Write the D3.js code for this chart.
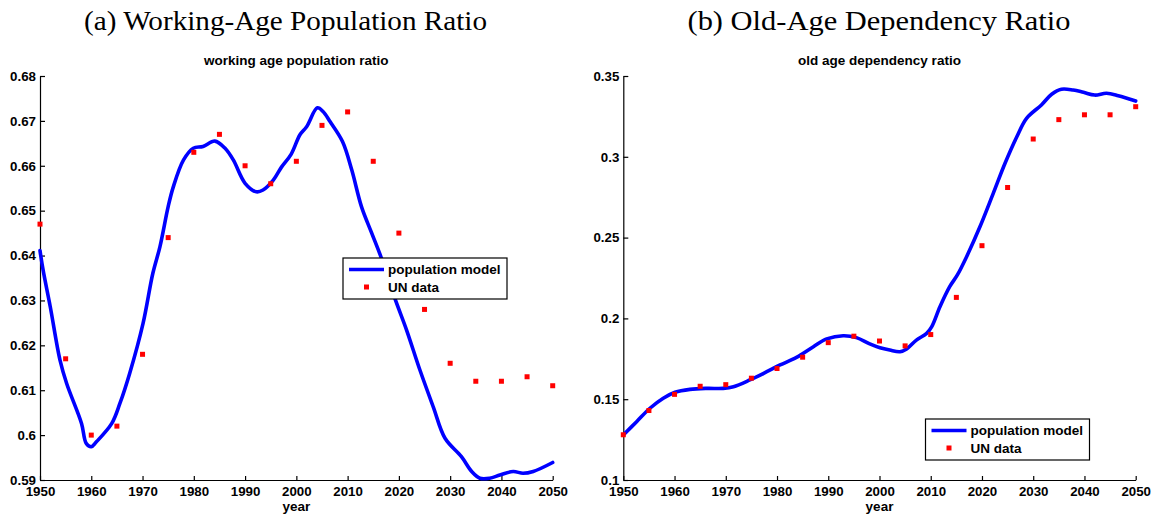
<!DOCTYPE html>
<html>
<head>
<meta charset="utf-8">
<script src="https://cdn.jsdelivr.net/npm/d3@7"></script>
<style>
  html, body { margin: 0; padding: 0; background: #fff; }
  svg { display: block; }
  .tick text { font-family: "Liberation Sans", Arial, sans-serif; font-weight: bold; font-size: 13.3px; fill: #000; }
</style>
</head>
<body>
<svg id="chart" width="1161" height="516"></svg>
<script>
// Five-year observation years for the UN series
const unYears = [1950, 1955, 1960, 1965, 1970, 1975, 1980, 1985, 1990, 1995, 2000,
                 2005, 2010, 2015, 2020, 2025, 2030, 2035, 2040, 2045, 2050];

// (a) working-age population ratio
const workingUN = [0.647, 0.617, 0.600, 0.602, 0.618, 0.644, 0.663, 0.667, 0.660, 0.656, 0.661,
                   0.669, 0.672, 0.661, 0.645, 0.628, 0.616, 0.612, 0.612, 0.613, 0.611];
const workingModelYears = [1950, 1950.6, 1952, 1953.9, 1955.2, 1958.1, 1959, 1960, 1961, 1964,
                           1965.6, 1967.5, 1970.1, 1972, 1973.4, 1975, 1976, 1978, 1979.9, 1981.8,
                           1984.1, 1986.1, 1987.7, 1990, 1992.2, 1993.5, 1995.5, 1997.1, 1999,
                           2000.7, 2002, 2004.1, 2005.2, 2006.6, 2009, 2010.8, 2012.7, 2014.7,
                           2016.6, 2019.2, 2021.5, 2024.1, 2026.7, 2029, 2032.2, 2034.2, 2035.8,
                           2037.7, 2039.7, 2042.3, 2044.2, 2046.2, 2050];
const workingModel = [0.6411, 0.6368, 0.6286, 0.6167, 0.6115, 0.6026, 0.5982, 0.5974, 0.5985, 0.6026,
                      0.6071, 0.6138, 0.6249, 0.6360, 0.6420, 0.6509, 0.6553, 0.6613, 0.6639, 0.6643,
                      0.6655, 0.6639, 0.6613, 0.6561, 0.6542, 0.6546, 0.6568, 0.6597, 0.6626,
                      0.6669, 0.6687, 0.6729, 0.6721, 0.6698, 0.6654, 0.6591, 0.6509, 0.6450,
                      0.6394, 0.6305, 0.6234, 0.6145, 0.6063, 0.5993, 0.5952, 0.5919, 0.5904,
                      0.5904, 0.5911, 0.5919, 0.5915, 0.5919, 0.5939];
const workingTicks = [0.59, 0.60, 0.61, 0.62, 0.63, 0.64, 0.65, 0.66, 0.67, 0.68];
const workingTickLabels = ["0.59", "0.6", "0.61", "0.62", "0.63", "0.64", "0.65", "0.66", "0.67", "0.68"];

// (b) old-age dependency ratio
const oldAgeUN = [0.128, 0.143, 0.153, 0.158, 0.159, 0.163, 0.169, 0.176, 0.185, 0.189, 0.186,
                  0.183, 0.190, 0.213, 0.245, 0.281, 0.311, 0.323, 0.326, 0.326, 0.331];
const oldAgeModelYears = [1950, 1952.6, 1955.2, 1957.8, 1960.1, 1963, 1966.3, 1969.5, 1971.5, 1974.7,
                          1978, 1980.6, 1983.8, 1987.1, 1989.7, 1992.9, 1995.5, 1998.1, 2000.1,
                          2002, 2004, 2005.3, 2007.2, 2009.2, 2010.2, 2011.8, 2013.7, 2015.2,
                          2017, 2019.6, 2022.2, 2024.5, 2026.8, 2028.7, 2031.6, 2033.6, 2035.5,
                          2037.8, 2039.8, 2042, 2044.3, 2046.6, 2050];
const oldAgeModel = [0.1278, 0.1361, 0.1444, 0.1506, 0.1543, 0.1561, 0.1567, 0.1567, 0.1577, 0.1619,
                     0.1670, 0.1712, 0.1759, 0.1825, 0.1873, 0.1893, 0.1881, 0.1842, 0.1818,
                     0.1804, 0.1794, 0.1811, 0.1866, 0.1907, 0.1949, 0.2072, 0.2196, 0.2269,
                     0.2382, 0.2567, 0.2774, 0.2960, 0.3124, 0.3238, 0.3321, 0.3387, 0.3418,
                     0.3413, 0.3399, 0.3382, 0.3393, 0.3378, 0.3345];
const oldAgeTicks = [0.10, 0.15, 0.20, 0.25, 0.30, 0.35];
const oldAgeTickLabels = ["0.1", "0.15", "0.2", "0.25", "0.3", "0.35"];

const yearTicks = [1950, 1960, 1970, 1980, 1990, 2000, 2010, 2020, 2030, 2040, 2050];
const legendLabels = ["population model", "UN data"];

const svg = d3.select("#chart");
const sans = "'Liberation Sans', Arial, sans-serif";

function drawPanel(cfg) {
  const g = svg.append("g");
  const x = d3.scaleLinear().domain([1950, 2050]).range([cfg.left, cfg.right]);
  const y = d3.scaleLinear().domain(cfg.domain).range([480, 76]);

  // Figure caption (serif) and axes title (bold sans)
  g.append("text")
    .attr("x", cfg.captionX).attr("y", 30)
    .attr("text-anchor", "middle")
    .attr("textLength", cfg.captionWidth)
    .attr("lengthAdjust", "spacingAndGlyphs")
    .style("font-family", "'Liberation Serif', 'Times New Roman', serif")
    .style("font-size", "26.5px")
    .text(cfg.caption);
  g.append("text")
    .attr("x", (cfg.left + cfg.right) / 2).attr("y", 65)
    .attr("text-anchor", "middle")
    .style("font-family", sans)
    .style("font-weight", "bold")
    .style("font-size", "13.5px")
    .text(cfg.title);

  // Axes: ticks point inward
  const xAxis = d3.axisBottom(x).tickValues(yearTicks).tickFormat(d3.format("d"))
    .tickSizeInner(-4).tickSizeOuter(0).tickPadding(7);
  const gx = g.append("g").attr("transform", "translate(0,480)").call(xAxis);
  const yAxis = d3.axisLeft(y).tickValues(cfg.ticks)
    .tickFormat((d, i) => cfg.tickLabels[i])
    .tickSizeInner(-5).tickSizeOuter(0).tickPadding(4);
  const gy = g.append("g").attr("transform", `translate(${cfg.left},0)`).call(yAxis);
  [gx, gy].forEach(a => {
    a.select(".domain").attr("stroke", "#000").attr("stroke-width", 1.2);
    a.selectAll(".tick line").attr("stroke", "#000").attr("stroke-width", 1.2);
  });

  g.append("text")
    .attr("x", (cfg.left + cfg.right) / 2).attr("y", 511)
    .attr("text-anchor", "middle")
    .style("font-family", sans)
    .style("font-weight", "bold")
    .style("font-size", "13.5px")
    .text("year");

  // Model curve
  const pts = cfg.modelYears.map((yr, i) => [yr, cfg.model[i]]);
  const line = d3.line().x(d => x(d[0])).y(d => y(d[1])).curve(d3.curveCatmullRom.alpha(0.5));
  g.append("path").datum(pts)
    .attr("d", line)
    .attr("fill", "none")
    .attr("stroke", "#0000ff")
    .attr("stroke-width", 3.6)
    .attr("stroke-linejoin", "round")
    .attr("stroke-linecap", "round");

  // UN data points
  g.append("g").selectAll("rect").data(unYears.map((yr, i) => [yr, cfg.un[i]]))
    .join("rect")
    .attr("x", d => x(d[0]) - 2.5).attr("y", d => y(d[1]) - 2.5)
    .attr("width", 5).attr("height", 5)
    .attr("fill", "#ff0000");

  // Legend
  const lg = g.append("g").attr("transform", `translate(${cfg.legend[0]},${cfg.legend[1]})`);
  lg.append("rect").attr("x", 0).attr("y", 0).attr("width", 164).attr("height", 41)
    .attr("fill", "#fff").attr("stroke", "#000").attr("stroke-width", 1.2);
  lg.append("line").attr("x1", 6).attr("x2", 41).attr("y1", 11.5).attr("y2", 11.5)
    .attr("stroke", "#0000ff").attr("stroke-width", 3.6);
  lg.append("rect").attr("x", 21).attr("y", 26.5).attr("width", 5).attr("height", 5).attr("fill", "#ff0000");
  lg.selectAll("text.lbl").data(legendLabels).join("text")
    .attr("class", "lbl")
    .attr("x", 45).attr("y", (d, i) => 16 + i * 18)
    .style("font-family", sans)
    .style("font-weight", "bold")
    .style("font-size", "13.5px")
    .text(d => d);
}

drawPanel({
  left: 40, right: 552.7, domain: [0.59, 0.68],
  ticks: workingTicks, tickLabels: workingTickLabels,
  caption: "(a) Working-Age Population Ratio", captionX: 285.5, captionWidth: 403,
  title: "working age population ratio",
  modelYears: workingModelYears, model: workingModel, un: workingUN,
  legend: [343, 258]
});
drawPanel({
  left: 623.3, right: 1135.7, domain: [0.10, 0.35],
  ticks: oldAgeTicks, tickLabels: oldAgeTickLabels,
  caption: "(b) Old-Age Dependency Ratio", captionX: 879, captionWidth: 383,
  title: "old age dependency ratio",
  modelYears: oldAgeModelYears, model: oldAgeModel, un: oldAgeUN,
  legend: [925.5, 419]
});
</script>
</body>
</html>
